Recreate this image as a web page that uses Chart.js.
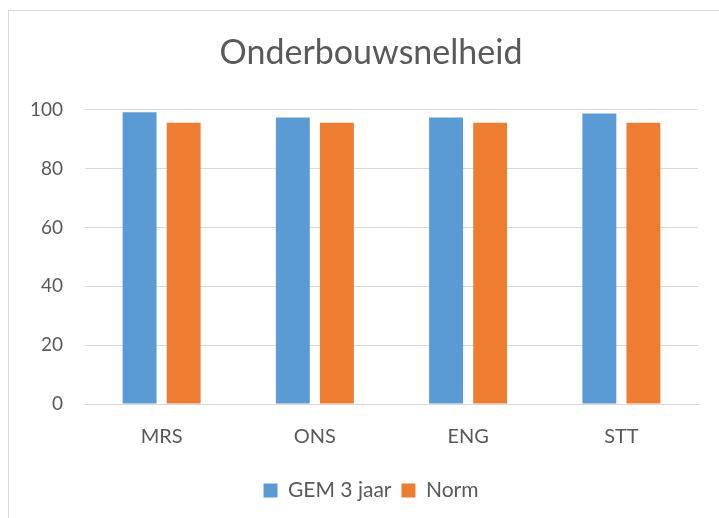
<!DOCTYPE html>
<html><head><meta charset="utf-8">
<script src="https://cdn.jsdelivr.net/npm/chart.js@4"></script>
<style>
html,body{margin:0;padding:0;background:#fff;}
#wrap{position:absolute;left:0;top:0;width:719px;height:518px;}
#frame{position:absolute;left:8px;top:10px;width:730px;height:530px;border:1px solid #d9d9d9;box-sizing:border-box;}
canvas{position:absolute;left:0;top:0;}
</style></head>
<body>
<div id="wrap"><div id="frame"></div><canvas id="c" width="719" height="518"></canvas></div>
<script>
const categories = ["MRS","ONS","ENG","STT"];
const gem3jaar = [99.2, 97.4, 97.4, 98.7];
const norm = [95.6, 95.6, 95.6, 95.6];
const yTicks = [0,20,40,60,80,100];

const FONT = "Lato, 'Open Sans', sans-serif";
// shift title and legend so they are centred like in the original (wider) chart frame
const centreShift = {
  id: 'centreShift',
  afterLayout(chart) {
    if (chart.titleBlock) { chart.titleBlock.left += 36; }
    if (chart.legend) { chart.legend.left += 36; }
  }
};
new Chart(document.getElementById('c'), {
  type: 'bar',
  data: {
    labels: categories,
    datasets: [
      {label: 'GEM 3 jaar', data: gem3jaar, backgroundColor: '#5b9bd5', borderWidth: 0},
      {label: 'Norm', data: norm, backgroundColor: '#ed7d31', borderWidth: 0}
    ]
  },
  plugins: [centreShift],
  options: {
    responsive: false,
    animation: false,
    devicePixelRatio: 1,
    layout: {padding: {left: 8, right: 21, top: 0, bottom: 7}},
    datasets: {bar: {categoryPercentage: 0.575, barPercentage: 0.77}},
    plugins: {
      title: {display: true, text: 'Onderbouwsnelheid', color: '#595959',
        font: {family: FONT, size: 34, weight: 'normal'}, padding: {top: 33, bottom: 36}},
      legend: {position: 'bottom',
        labels: {color: '#595959', font: {family: FONT, size: 21}, boxWidth: 14, boxHeight: 14, padding: 10}},
      tooltip: {enabled: false}
    },
    scales: {
      x: {
        grid: {display: false, drawTicks: false},
        border: {display: true, color: '#d9d9d9', width: 1},
        ticks: {color: '#595959', font: {family: FONT, size: 20}, padding: 21},
        afterFit: s => { s.height = 66; }
      },
      y: {
        min: 0, max: 100,
        afterBuildTicks: s => { s.ticks = yTicks.map(v => ({value: v})); },
        grid: {color: '#d9d9d9', drawTicks: false},
        border: {display: false},
        ticks: {color: '#595959', font: {family: FONT, size: 19}, padding: 22},
        afterFit: s => { s.width = 77; }
      }
    }
  }
});
</script>
</body></html>
